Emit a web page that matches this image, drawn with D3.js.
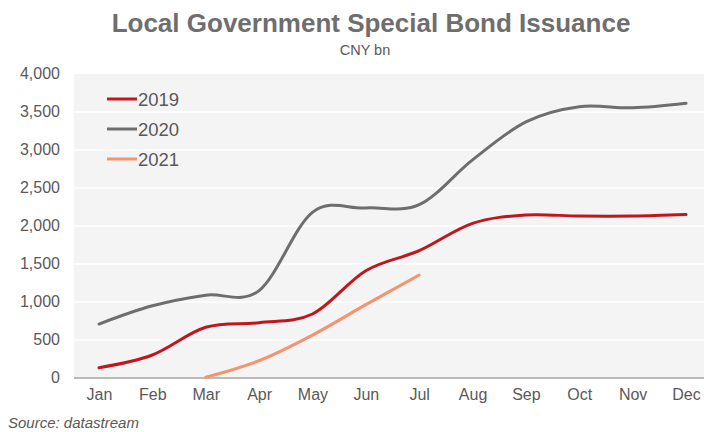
<html>
<head>
  <title>Local Government Special Bond Issuance</title>
  <script src="https://cdnjs.cloudflare.com/ajax/libs/d3/7.8.5/d3.min.js"></script>
  <style>
    body { margin: 0; background: #fff; }
    text { font-family: "Liberation Sans", Arial, sans-serif; }
  </style>
</head>
<body>
<script type="text/javascript">
  // months along the x axis
  var months = ["Jan", "Feb", "Mar", "Apr", "May", "Jun", "Jul", "Aug", "Sep", "Oct", "Nov", "Dec"];

  // cumulative issuance, CNY bn
  var y2019 = [136, 303, 667, 728, 842, 1412, 1675, 2035, 2145, 2130, 2130, 2150];
  var y2020 = [710, 950, 1090, 1150, 2180, 2237, 2280, 2870, 3370, 3570, 3555, 3615];
  var y2021 = [null, null, 10, 228, 565, 965, 1355, null, null, null, null, null];

  var yTicks = [0, 500, 1000, 1500, 2000, 2500, 3000, 3500, 4000];

  var series = [
    { name: "2019", values: y2019, color: "#c0171d" },
    { name: "2020", values: y2020, color: "#6e6e6e" },
    { name: "2021", values: y2021, color: "#f4936e" }
  ];

  var width = 704, height = 432;
  // plot box (note: "top" is reserved on window, so use plotTop)
  var plotLeft = 74, plotRight = 704, plotTop = 74, plotBottom = 378;

  var svg = d3.select("body")
    .append("svg")
    .attr("width", width)
    .attr("height", height);

  var x = d3.scalePoint()
    .domain(months)
    .range([99, 686]);

  var y = d3.scaleLinear()
    .domain([0, 4000])
    .range([plotBottom, plotTop]);

  // plot background
  svg.append("rect")
    .attr("x", plotLeft)
    .attr("y", plotTop)
    .attr("width", plotRight - plotLeft)
    .attr("height", plotBottom - plotTop)
    .attr("fill", "#f4f4f4");

  // gridlines
  svg.append("g")
    .selectAll("line")
    .data(yTicks.slice(1, -1))
    .enter().append("line")
    .attr("x1", plotLeft)
    .attr("x2", plotRight)
    .attr("y1", function (d) { return y(d); })
    .attr("y2", function (d) { return y(d); })
    .attr("stroke", "#ffffff")
    .attr("stroke-width", 1.5);

  // y axis labels
  var yAxis = svg.append("g")
    .attr("transform", "translate(" + (plotLeft - 14) + ",0)")
    .call(d3.axisLeft(y).tickValues(yTicks).tickSize(0).tickFormat(d3.format(",")));
  yAxis.select(".domain").remove();
  yAxis.selectAll("text")
    .attr("fill", "#595959")
    .style("font-size", "16px")
    .attr("dy", "0.3em")
    .attr("x", 0);

  // x axis
  var xAxis = svg.append("g")
    .attr("transform", "translate(0," + plotBottom + ")")
    .call(d3.axisBottom(x).tickSize(0));
  xAxis.select(".domain").remove();
  xAxis.selectAll("text")
    .attr("fill", "#595959")
    .style("font-size", "16px")
    .attr("dy", 0)
    .attr("y", 22);

  svg.append("line")
    .attr("x1", plotLeft)
    .attr("x2", plotRight)
    .attr("y1", plotBottom)
    .attr("y2", plotBottom)
    .attr("stroke", "#a6a6a6")
    .attr("stroke-width", 1.5);

  // lines
  var line = d3.line()
    .defined(function (d) { return d != null; })
    .x(function (d, i) { return x(months[i]); })
    .y(function (d) { return y(d); })
    .curve(d3.curveCatmullRom.alpha(0));

  svg.append("g")
    .selectAll("path")
    .data(series)
    .enter().append("path")
    .attr("d", function (s) { return line(s.values); })
    .attr("fill", "none")
    .attr("stroke", function (s) { return s.color; })
    .attr("stroke-width", 3)
    .attr("stroke-linecap", "round");

  // legend
  var legend = svg.append("g")
    .selectAll("g")
    .data(series)
    .enter().append("g")
    .attr("transform", function (s, i) { return "translate(107," + (99 + i * 30) + ")"; });

  legend.append("line")
    .attr("x1", 0)
    .attr("x2", 30)
    .attr("stroke", function (s) { return s.color; })
    .attr("stroke-width", 3);

  legend.append("text")
    .attr("x", 31)
    .attr("y", 6.5)
    .attr("fill", "#595959")
    .style("font-size", "18.5px")
    .text(function (s) { return s.name; });

  // titles
  svg.append("text")
    .attr("x", 371)
    .attr("y", 32)
    .attr("text-anchor", "middle")
    .attr("fill", "#6e6e6e")
    .style("font-size", "26px")
    .style("font-weight", "bold")
    .text("Local Government Special Bond Issuance");

  svg.append("text")
    .attr("x", 365)
    .attr("y", 55)
    .attr("text-anchor", "middle")
    .attr("fill", "#595959")
    .style("font-size", "14.5px")
    .text("CNY bn");

  svg.append("text")
    .attr("x", 8)
    .attr("y", 428)
    .attr("fill", "#595959")
    .style("font-size", "15px")
    .style("font-style", "italic")
    .text("Source: datastream");
</script>
</body>
</html>
